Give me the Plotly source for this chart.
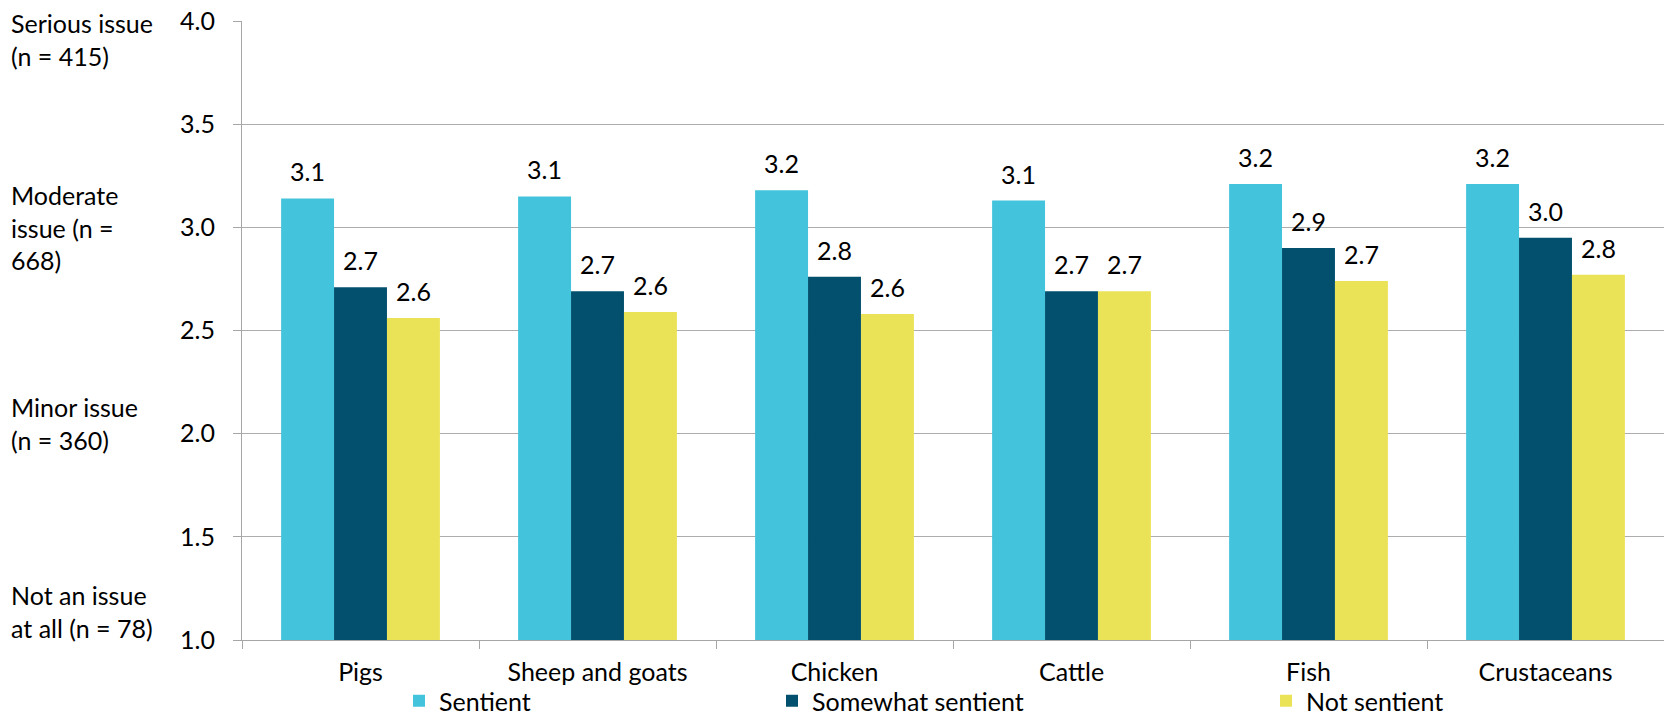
import plotly.graph_objects as go

categories = ["Pigs", "Sheep and goats", "Chicken", "Cattle", "Fish", "Crustaceans"]
sentient = [3.14, 3.15, 3.18, 3.13, 3.21, 3.21]
somewhat = [2.71, 2.69, 2.76, 2.69, 2.90, 2.95]
not_sentient = [2.56, 2.59, 2.58, 2.69, 2.74, 2.77]
series_names = ["Sentient", "Somewhat sentient", "Not sentient"]
colors = ["#43C4DC", "#02506E", "#EAE357"]
y_ticks = [1.0, 1.5, 2.0, 2.5, 3.0, 3.5, 4.0]
side_labels = ["Serious issue<br>(n = 415)", "Moderate<br>issue (n =<br>668)",
               "Minor issue<br>(n = 360)", "Not an issue<br>at all (n = 78)"]
side_label_y = [3.91, 3.0, 2.05, 1.14]

series = [sentient, somewhat, not_sentient]
legend_ids = ["legend", "legend2", "legend3"]

FONT = "Lato, Open Sans, DejaVu Sans, sans-serif"
FS = 25

W, H = 1664, 714
ml, mr, mt, mb = 242, 0, 21, 74
plot_w = W - ml - mr
plot_h = H - mt - mb
cat_w = plot_w / len(categories)
bargap = 0.33
bar_w = cat_w * (1 - bargap) / 3

fig = go.Figure()
for i, (name, vals, col) in enumerate(zip(series_names, series, colors)):
    fig.add_trace(go.Bar(
        x=categories, y=[v - 1.0 for v in vals], base=1.0, name=name,
        marker=dict(color=col, line=dict(width=0)),
        legend=legend_ids[i], showlegend=True, hoverinfo="skip",
    ))

annotations = []
for i, vals in enumerate(series):
    for c, v in zip(categories, vals):
        annotations.append(dict(
            x=c, y=v, xref="x", yref="y", text=f"{v:.1f}", showarrow=False,
            xshift=(i - 1) * bar_w, yshift=27, yanchor="middle",
            font=dict(family=FONT, size=FS, color="#000000"),
        ))
for txt, yv in zip(side_labels, side_label_y):
    annotations.append(dict(
        x=0, y=yv, xref="paper", yref="y", text=txt, showarrow=False,
        xanchor="left", yanchor="middle", align="left", xshift=-(ml - 9),
        font=dict(family=FONT, size=FS, color="#000000"),
    ))

text_starts = [444, 817, 1311]  # px where legend text begins
legend_x = [(t - 45 - ml) / plot_w for t in text_starts]
leg_common = dict(orientation="h", yanchor="middle", xanchor="left",
                  y=-(701 - (mt + plot_h)) / plot_h,
                  font=dict(family=FONT, size=FS, color="#000000"),
                  bgcolor="rgba(0,0,0,0)", borderwidth=0, itemwidth=30)

fig.update_layout(
    width=W, height=H,
    margin=dict(l=ml, r=mr, t=mt, b=mb, pad=0, autoexpand=False),
    barmode="group", bargap=bargap, bargroupgap=0,
    plot_bgcolor="white", paper_bgcolor="white",
    annotations=annotations,
    legend=dict(x=legend_x[0], **leg_common),
    legend2=dict(x=legend_x[1], **leg_common),
    legend3=dict(x=legend_x[2], **leg_common),
    xaxis=dict(
        showline=True, linecolor="#A6A6A6", linewidth=1,
        ticks="outside", tickson="boundaries", ticklen=8, tickcolor="#A6A6A6",
        tickfont=dict(family=FONT, size=FS, color="#000000"),
        ticklabelstandoff=10, showgrid=False,
    ),
    yaxis=dict(
        range=[1.0, 4.0], tickvals=y_ticks, ticktext=[f"{t:.1f}" for t in y_ticks],
        showline=True, linecolor="#A6A6A6", linewidth=1,
        ticks="outside", ticklen=8, tickcolor="#A6A6A6",
        showgrid=True, gridcolor="#ADADAD", gridwidth=1,
        tickfont=dict(family=FONT, size=FS, color="#000000"),
        ticklabelstandoff=13, zeroline=False, ticklabeloverflow="allow",
    ),
)

fig.write_html(
    "out.html",
    config={"displayModeBar": False},
    post_script="document.body.style.margin='0';document.body.style.overflow='hidden';",
)
